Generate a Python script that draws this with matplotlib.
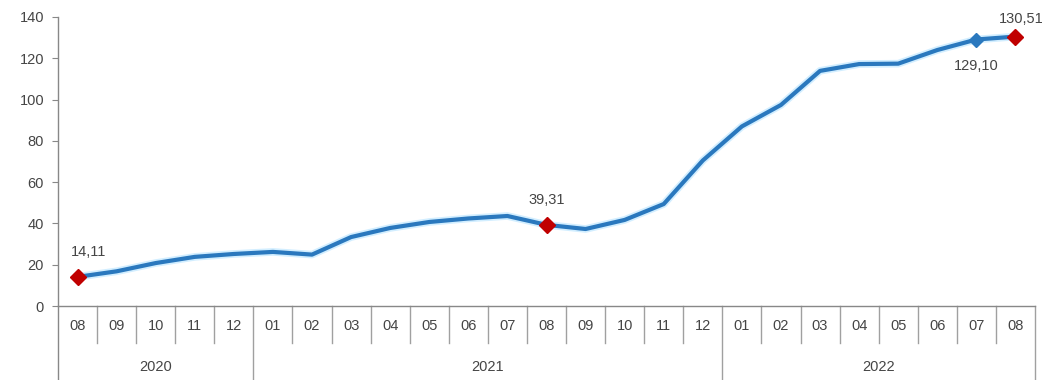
import matplotlib.pyplot as plt
import matplotlib.patheffects as pe

months = ["08", "09", "10", "11", "12",
          "01", "02", "03", "04", "05", "06", "07", "08", "09", "10", "11", "12",
          "01", "02", "03", "04", "05", "06", "07", "08"]
years = ["2020", "2021", "2022"]
year_counts = [5, 12, 8]
values = [14.11, 16.8, 20.8, 23.8, 25.2,
          26.2, 24.9, 33.4, 37.8, 40.7, 42.4, 43.6, 39.31, 37.3, 41.7, 49.4, 70.5,
          87.0, 97.4, 113.9, 117.2, 117.4, 124.0, 129.10, 130.51]
# index -> (x offset, y offset) in points for the value labels
labelled = {0: (8, 18), 12: (0, 18), 23: (0, -19), 24: (4, 13)}
red_points = [0, 12, 24]
blue_points = [23]

plt.rcParams['font.family'] = ['Liberation Sans', 'DejaVu Sans']
FS = 10.5
TXT = "#454545"

W, H = 1058, 380
fig = plt.figure(figsize=(W / 100, H / 100), dpi=100)
x0, x1, y0, y1 = 58, 1035, 306, 17
ax = fig.add_axes([x0 / W, 1 - y0 / H, (x1 - x0) / W, (y0 - y1) / H])

n = len(values)
xs = list(range(n))
line_col = "#2A78BE"
ax.plot(xs, values, color=line_col, lw=3.0, solid_joinstyle="round",
        path_effects=[pe.Stroke(linewidth=5.5, foreground="#D2EEFF"), pe.Normal()],
        zorder=3)
ax.plot([xs[i] for i in red_points], [values[i] for i in red_points], "D",
        color="#C00000", ms=8, zorder=4)
ax.plot([xs[i] for i in blue_points], [values[i] for i in blue_points], "D",
        color=line_col, ms=7, zorder=4)

for i, (dx, dy) in labelled.items():
    txt = f"{values[i]:.2f}".replace(".", ",")
    ax.annotate(txt, (xs[i], values[i]), xytext=(dx, dy), textcoords="offset points",
                ha="center", va="center", fontsize=FS, color=TXT, zorder=5,
                annotation_clip=False)

ax.set_xlim(-0.5, n - 0.5)
ax.set_ylim(0, 140)
ax.set_yticks(range(0, 141, 20))
ax.tick_params(axis="y", length=4, color="#888888", labelcolor=TXT,
               labelsize=FS, pad=6)
ax.set_xticks([])
for s in ["top", "right"]:
    ax.spines[s].set_visible(False)
for s in ["left", "bottom"]:
    ax.spines[s].set_color("#888888")
    ax.spines[s].set_linewidth(1)

# category table under the plot
trans = ax.get_xaxis_transform()
month_y = -(326 - y0) / (y0 - y1)
year_y = -(367 - y0) / (y0 - y1)
short_sep = -(343 - y0) / (y0 - y1)
long_sep = -(H - y0) / (y0 - y1)
for i, m in enumerate(months):
    ax.text(i, month_y, m, transform=trans, ha="center", va="center",
            fontsize=FS, color=TXT, clip_on=False)
boundaries = set()
acc = 0
for c in year_counts:
    acc += c
    boundaries.add(acc)
for i in range(1, n + 1):
    bottom = long_sep if i in boundaries else short_sep
    ax.plot([i - 0.5, i - 0.5], [0, bottom], transform=trans, color="#A0A0A0",
            lw=1, clip_on=False)
ax.plot([-0.5, -0.5], [0, long_sep], transform=trans, color="#888888",
        lw=1, clip_on=False)
start = 0
for yname, c in zip(years, year_counts):
    ax.text(start + (c - 1) / 2, year_y, yname, transform=trans, ha="center",
            va="center", fontsize=FS, color=TXT, clip_on=False)
    start += c

fig.savefig("out.png", dpi=100)
